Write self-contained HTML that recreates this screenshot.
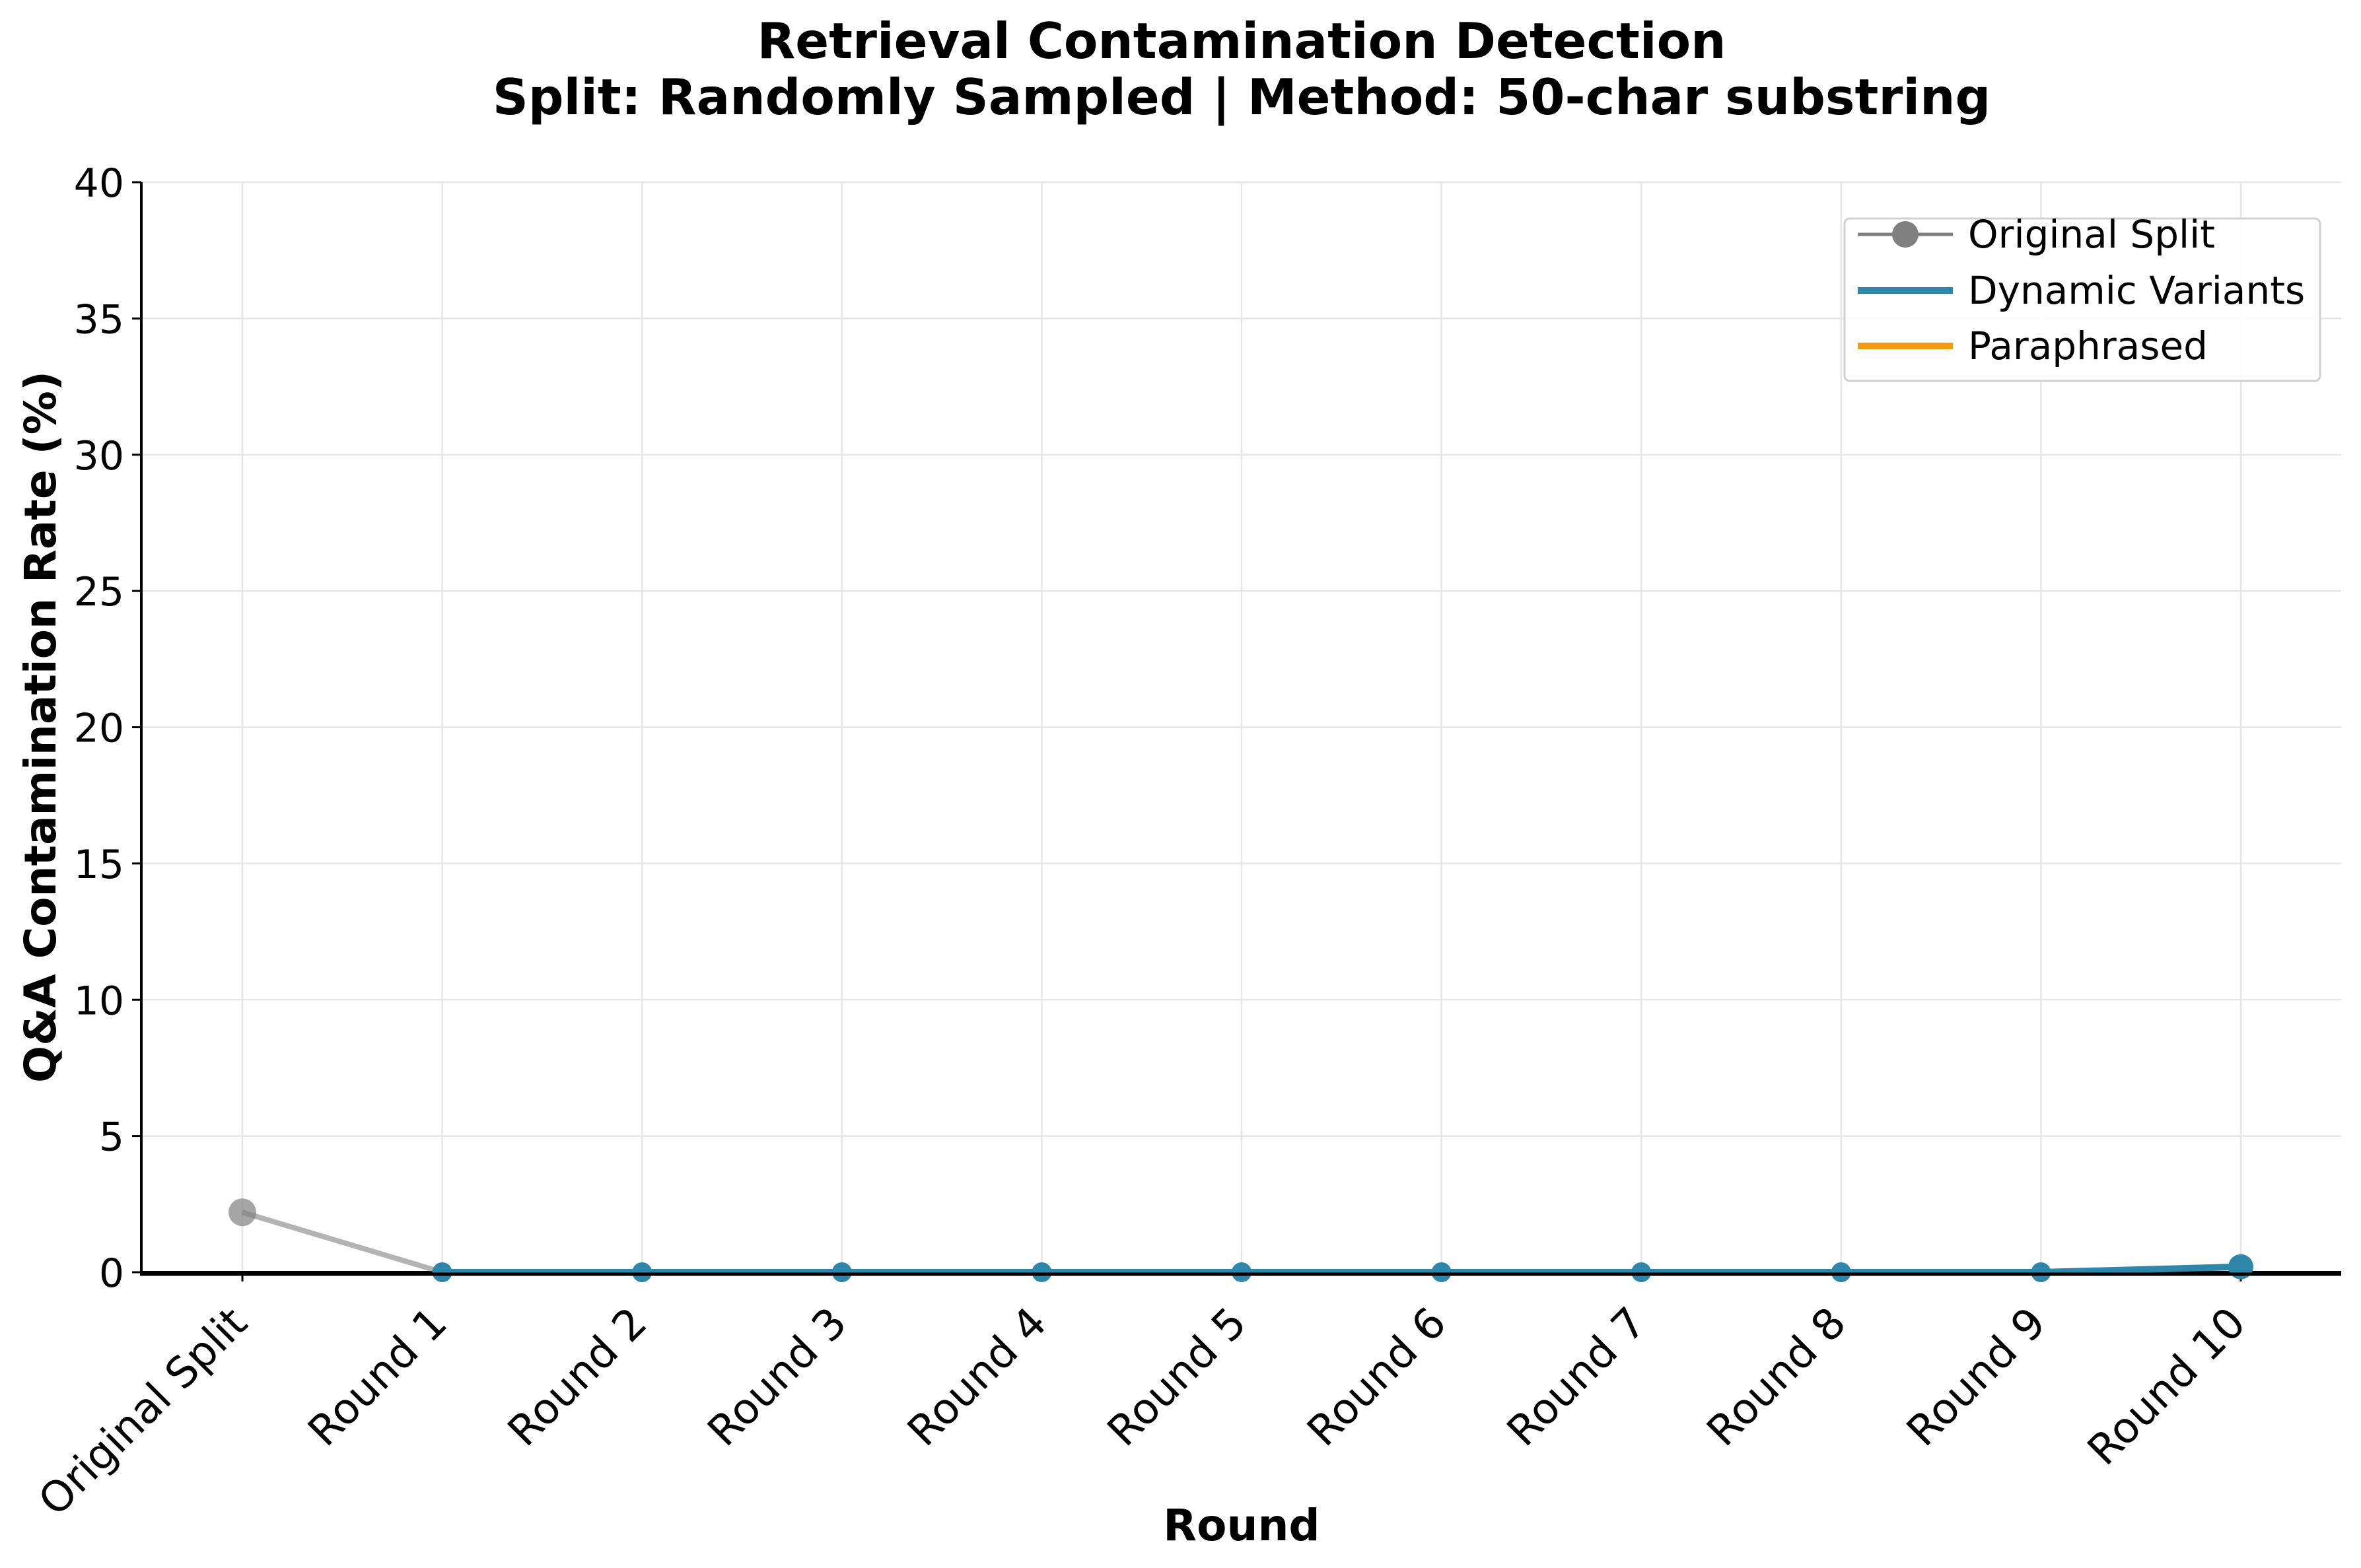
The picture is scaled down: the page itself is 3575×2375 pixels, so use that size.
<!DOCTYPE html>
<html><head><meta charset="utf-8"><style>
html,body{margin:0;padding:0;background:#fff;}
svg{display:block;font-family:"DejaVu Sans","Liberation Sans",sans-serif;}
</style></head><body>
<svg id="chart" width="3575" height="2375" viewBox="0 0 3575 2375" xmlns="http://www.w3.org/2000/svg">
<rect width="3575" height="2375" fill="#fff"/>
<text x="1880" y="88" text-anchor="middle" font-weight="bold" font-size="75">Retrieval Contamination Detection</text>
<text x="1880" y="173" text-anchor="middle" font-weight="bold" font-size="75">Split: Randomly Sampled | Method: 50-char substring</text>
<g id="grid"></g>
<g id="yaxis"></g>
<g id="xaxis"></g>
<g id="series"></g>
<text x="1880" y="2333" text-anchor="middle" font-weight="bold" font-size="66">Round</text>
<text transform="translate(84,1101) rotate(-90)" text-anchor="middle" font-weight="bold" font-size="66">Q&amp;A Contamination Rate (%)</text>
<g>
<rect x="2793" y="331" width="720" height="246" rx="8" fill="#fff" fill-opacity="0.9" stroke="#d0d0d0" stroke-width="3"/>
<g>
<line x1="2813" y1="355" x2="2957" y2="355" stroke="#808080" stroke-width="5"/>
<circle cx="2885" cy="355" r="20" fill="#808080"/>
<text x="2980" y="375" font-size="58">Original Split</text></g>
<g>
<line x1="2813" y1="440" x2="2957" y2="440" stroke="#2E86AB" stroke-width="10"/>
<text x="2980" y="460" font-size="58">Dynamic Variants</text></g>
<g>
<line x1="2813" y1="524" x2="2957" y2="524" stroke="#F39C12" stroke-width="10"/>
<text x="2980" y="544" font-size="58">Paraphrased</text></g>
</g>
</svg>
<script>
const categories = ["Original Split","Round 1","Round 2","Round 3","Round 4","Round 5","Round 6","Round 7","Round 8","Round 9","Round 10"];
const originalValues = [2.2, 0];
const dynamicValues = [0,0,0,0,0,0,0,0,0,0.2];
const paraphrasedValues = [];
const yTicks = [0,5,10,15,20,25,30,35,40];

const NS="http://www.w3.org/2000/svg";
const L=214,R=3545,T=276,B=1927,X0=367,DX=302.6,YMAX=40;
const xs=i=>X0+i*DX;
const ys=v=>B-(v/YMAX)*(B-T);
function mk(tag,attrs,parent){const e=document.createElementNS(NS,tag);for(const k in attrs)e.setAttribute(k,attrs[k]);parent.appendChild(e);return e;}
const grid=document.getElementById('grid'),ya=document.getElementById('yaxis'),xa=document.getElementById('xaxis'),se=document.getElementById('series');
yTicks.forEach(t=>{
  const g=mk('line',{x1:L,x2:R,y1:ys(t),y2:ys(t),stroke:'#e6e6e6','stroke-width':2.5},grid);
  
  
  mk('line',{x1:L-14,x2:L,y1:ys(t),y2:ys(t),stroke:'#000','stroke-width':3},ya);
  const tx=mk('text',{x:L-26,y:ys(t)+22,'text-anchor':'end','font-size':60},ya);
  tx.textContent=t;
  
  
});
categories.forEach((c,i)=>{
  const g=mk('line',{x1:xs(i),x2:xs(i),y1:T,y2:B,stroke:'#e6e6e6','stroke-width':2.5},grid);
  
  
  mk('line',{x1:xs(i),x2:xs(i),y1:B,y2:B+14,stroke:'#000','stroke-width':3},xa);
  const tx=mk('text',{transform:`translate(${xs(i)-22},${B+48}) rotate(-45)`,'text-anchor':'end','font-size':64,dy:'0.72em'},xa);
  tx.textContent=c;
  
  
});
mk('line',{x1:L,x2:L,y1:T,y2:B+2,stroke:'#000','stroke-width':4},ya);
mk('line',{x1:L-2,x2:R,y1:B,y2:B,stroke:'#000','stroke-width':4},xa);
const op=mk('polyline',{points:originalValues.map((v,i)=>xs(i)+','+ys(v)).join(' '),fill:'none',stroke:'#808080','stroke-opacity':0.6,'stroke-width':8},se);


const om=mk('circle',{cx:xs(0),cy:ys(originalValues[0]),r:21,fill:'#808080','fill-opacity':0.7},se);


const dl=mk('polyline',{points:dynamicValues.map((v,i)=>xs(i+1)+','+ys(v)).join(' '),fill:'none',stroke:'#2E86AB','stroke-width':10},se);


dynamicValues.forEach((v,i)=>{
  const c=mk('circle',{cx:xs(i+1),cy:ys(v),r:i===dynamicValues.length-1?19:15,fill:'#2E86AB'},se);
  
  
});
if(paraphrasedValues.length){
  const pl=mk('polyline',{points:paraphrasedValues.map((v,i)=>xs(i+1)+','+ys(v)).join(' '),fill:'none',stroke:'#F39C12','stroke-width':8},se);
  
  
}
const sp=mk('line',{x1:L-2,x2:R,y1:B+3,y2:B+3,stroke:'#000','stroke-width':5},se);


</script>
</body></html>
